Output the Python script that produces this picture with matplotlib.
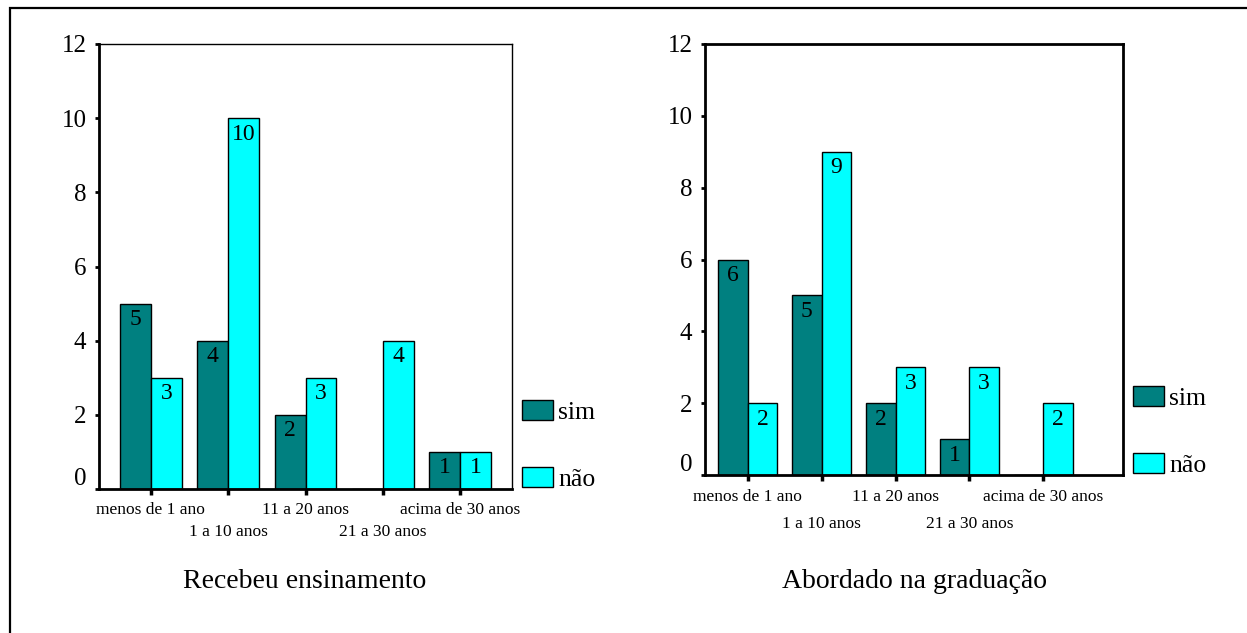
import numpy as np
import matplotlib
matplotlib.use("Agg")
import matplotlib.pyplot as plt
from matplotlib.patches import Rectangle
from matplotlib.transforms import ScaledTranslation

plt.rcParams['font.family'] = ['Liberation Serif', 'DejaVu Serif']

categorias = ["menos de 1 ano", "1 a 10 anos", "11 a 20 anos", "21 a 30 anos", "acima de 30 anos"]
series = ["sim", "não"]

recebeu_sim = [5, 4, 2, 0, 1]
recebeu_nao = [3, 10, 3, 4, 1]

abordado_sim = [6, 5, 2, 1, 0]
abordado_nao = [2, 9, 3, 3, 2]

titulos = ["Recebeu ensinamento", "Abordado na graduação"]
yticks = [0, 2, 4, 6, 8, 10, 12]

cor_sim = "#008080"
cor_nao = "#00FFFF"

fig = plt.figure(figsize=(12.47, 6.33), dpi=100)

# moldura externa (so topo e esquerda aparecem)
fig.add_artist(Rectangle((10/1247, -0.5), 2.0, 1.5 - 8/633, transform=fig.transFigure,
                         fill=False, edgecolor="black", linewidth=1.6))


def grafico(pos, sim, nao, titulo, xlim, pad1, pad2, espessura_tr, tit_x):
    ax = fig.add_axes(pos)
    x = np.arange(len(categorias))
    w = 0.4
    b1 = ax.bar(x - w/2, sim, w, color=cor_sim, edgecolor="black", linewidth=1, label=series[0])
    b2 = ax.bar(x + w/2, nao, w, color=cor_nao, edgecolor="black", linewidth=1, label=series[1])
    for barras in (b1, b2):
        for r in barras:
            v = r.get_height()
            if v > 0:
                ax.annotate(f"{int(v)}", (r.get_x() + r.get_width()/2, v), xytext=(0, -4),
                            textcoords="offset points", ha="center", va="top", fontsize=17)
    ax.set_xlim(*xlim)
    ax.set_ylim(0, 12)
    ax.set_yticks(yticks)
    ax.set_yticklabels([str(t) for t in yticks], fontsize=18)
    ax.set_xticks(x)
    ax.set_xticklabels(categorias, fontsize=12.5)
    ax.tick_params(axis="y", length=3, width=2, pad=6)
    ax.tick_params(axis="x", length=4, width=2.5, pad=pad1)
    # rotulos alternados em duas linhas
    for i, t in enumerate(ax.xaxis.get_major_ticks()):
        if i % 2 == 1:
            t.set_pad(pad2)
    for s in ("left", "bottom"):
        ax.spines[s].set_linewidth(2)
    for s in ("top", "right"):
        ax.spines[s].set_linewidth(espessura_tr)
    # rotulo do zero um pouco acima do eixo
    zero = ax.get_yticklabels()[0]
    zero.set_transform(zero.get_transform() + ScaledTranslation(0, 9/72, fig.dpi_scale_trans))
    ax.legend(loc="lower left", bbox_to_anchor=(1.025, -0.005), frameon=False, fontsize=18.5,
              borderpad=0, borderaxespad=0, handlelength=1.2, handleheight=0.8,
              handletextpad=0.2, labelspacing=1.7)
    fig.text(tit_x, 1 - 582/633, titulo, ha="center", va="center", fontsize=20)
    return ax


grafico([99/1247, 1 - 489/633, 413/1247, 445/633], recebeu_sim, recebeu_nao, titulos[0],
        (-0.67, 4.67), 5, 21, 1, 305/1247)
grafico([705/1247, 1 - 475/633, 418/1247, 431/633], abordado_sim, abordado_nao, titulos[1],
        (-0.58, 5.08), 6, 25.5, 2, 915/1247)

fig.savefig("out.png", dpi=100)
